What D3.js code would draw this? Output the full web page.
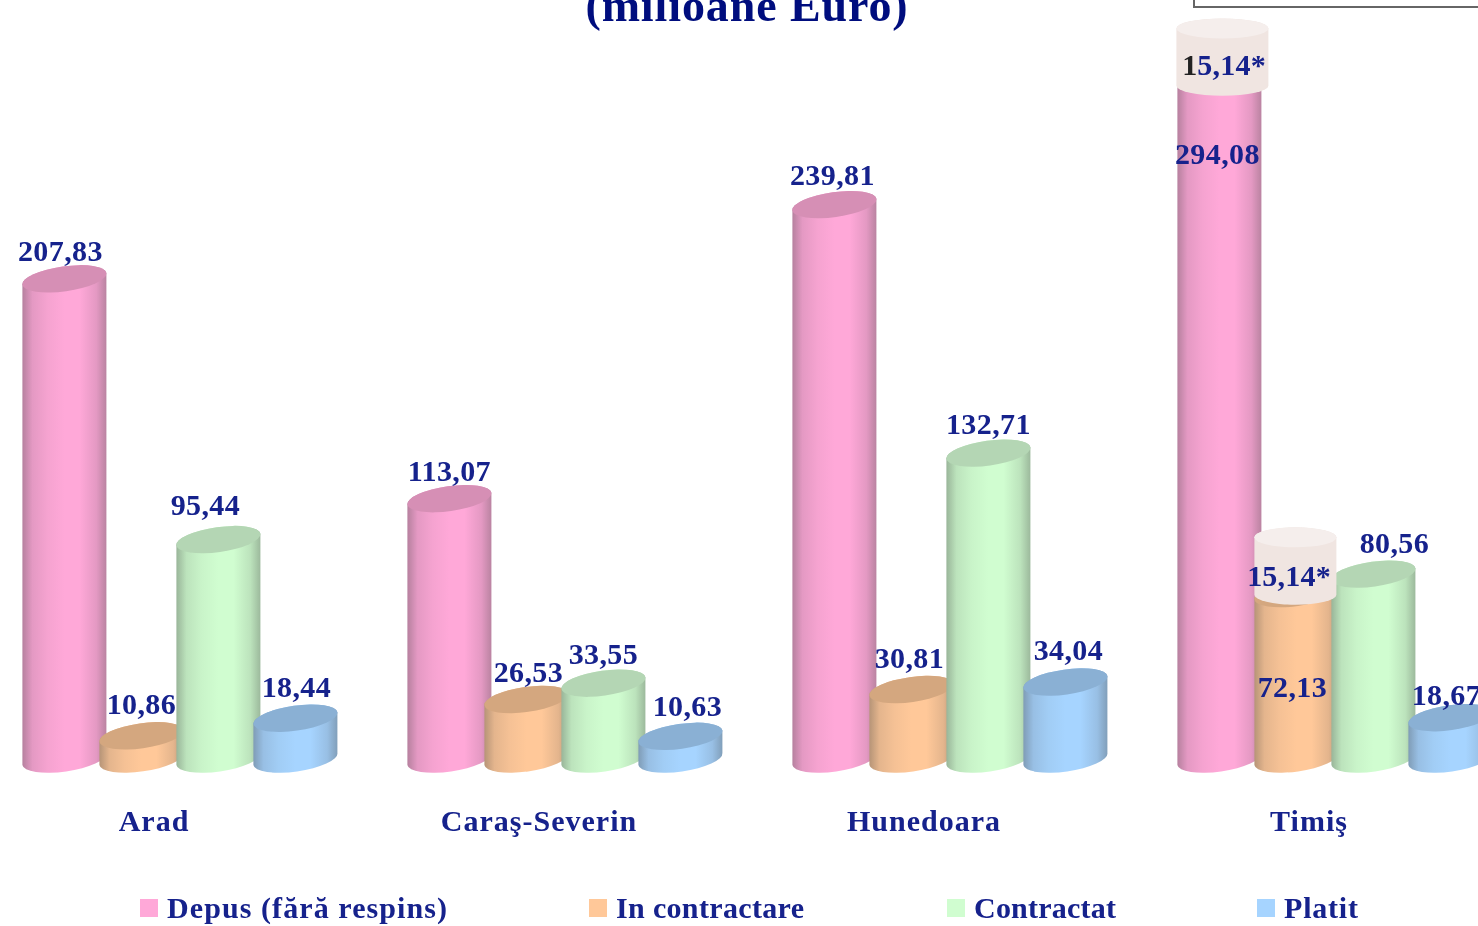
<!DOCTYPE html>
<html>
<head>
<meta charset="utf-8">
<script src="https://cdn.jsdelivr.net/npm/d3@7"></script>
<style>
  html, body { margin: 0; padding: 0; background: #fff; overflow: hidden; }
  text { font-family: "Liberation Serif", serif; font-weight: bold; }
</style>
</head>
<body>
<div id="chart-area"></div>
<script>
// DATA
const categories = ["Arad", "Caraş-Severin", "Hunedoara", "Timiş"]
const seriesNames = ["Depus (fără respins)", "In contractare", "Contractat", "Platit"]
const depus = [207.83, 113.07, 239.81, 294.08]
const inContractare = [10.86, 26.53, 30.81, 72.13]
const contractat = [95.44, 33.55, 132.71, 80.56]
const platit = [18.44, 10.63, 34.04, 18.67]
const seriesValues = [depus, inContractare, contractat, platit]
const seriesColors = ["#ffa8d8", "#ffc899", "#d0fdd0", "#a6d4ff"]
const topColors = ["#d68fb5", "#d4a77f", "#b4d6b4", "#8ab0d4"]

// the two pale "15,14*" caps on the Timis bars (drawn taller than their value in the original)
const capLabel = "15,14*"
const capSeries = [0, 1]
const capDrawnValue = 24.7

// LAYOUT
const WIDTH = 1478
const HEIGHT = 926
const BASE_Y = 761
const BAR_W = 84
const RY = 12.5
const TILT = -8
const TEXT_COLOR = "#14208c"
const legendX = [140, 589, 947, 1257]
const legendW = [280, 188, 142, 74]

// label tweaks "series-category": [dx, dy]
const labelShift = {
  "0-0": [-4, 2], "0-1": [0, 2], "0-2": [-2, 0], "0-3": [-2, 105],
  "1-0": [0, -2], "1-1": [2, 3], "1-2": [-2, -2], "1-3": [-4, 123],
  "2-0": [-13, -5], "2-1": [0, 1], "2-2": [0, 1], "2-3": [21, -1],
  "3-0": [1, -1], "3-1": [7, 0], "3-2": [3, -2], "3-3": [-4, 7]
}

const svg = d3.select("#chart-area").append("svg")
  .attr("width", WIDTH)
  .attr("height", HEIGHT)
  .style("display", "block")

const defs = svg.append("defs")

// the reference is a soft upscaled scan
defs.append("filter")
  .attr("id", "soft")
  .attr("filterUnits", "userSpaceOnUse")
  .attr("x", 0).attr("y", 0)
  .attr("width", WIDTH).attr("height", HEIGHT)
  .append("feGaussianBlur")
  .attr("stdDeviation", 0.6)

seriesColors.forEach((c, i) => {
  const dark = d3.interpolateRgb(c, "#404040")
  const g = defs.append("linearGradient").attr("id", "side" + i)
  const stops = [[0, 0.38], [0.12, 0.14], [0.3, 0.05], [0.5, 0], [0.68, 0], [0.88, 0.14], [1, 0.36]]
  stops.forEach(s => {
    g.append("stop").attr("offset", s[0]).attr("stop-color", dark(s[1]))
  })
})

const root = svg.append("g").attr("filter", "url(#soft)")

// SCALES
const x0 = d3.scaleBand()
  .domain(categories)
  .range([-38.5, 1501.5])

const x1 = d3.scaleBand()
  .domain(d3.range(seriesNames.length))
  .range([60.9, 368.9])

const y = d3.scaleLinear()
  .domain([0, 300])
  .range([BASE_Y, BASE_Y - 696])

// title, cut off by the top of the image
root.append("text")
  .attr("x", 747)
  .attr("y", 21)
  .attr("text-anchor", "middle")
  .attr("font-size", 46)
  .attr("letter-spacing", 0.9)
  .attr("fill", "#00107e")
  .text("(milioane Euro)")

// box of the cropped note, top right
root.append("rect")
  .attr("x", 1194).attr("y", -50)
  .attr("width", 400).attr("height", 57)
  .attr("fill", "#fff")
  .attr("stroke", "#666")
  .attr("stroke-width", 2)

function cylinderPath(cx, topY, botY, rx, ry, rot) {
  const a = rot * Math.PI / 180
  const dx = rx * Math.cos(a)
  const dy = rx * Math.sin(a)
  return `M${cx - dx},${topY - dy} L${cx - dx},${botY - dy}` +
    ` A${rx},${ry} ${rot} 0 0 ${cx + dx},${botY + dy}` +
    ` L${cx + dx},${topY + dy}` +
    ` A${rx},${ry} ${rot} 0 0 ${cx - dx},${topY - dy} Z`
}

// BARS, left to right so that each one overlaps the previous
const bars = []
categories.forEach((c, ci) => {
  seriesValues.forEach((vals, si) => {
    bars.push({ cat: c, ci: ci, si: si, value: vals[ci] })
  })
})

const RX = BAR_W / 2 / Math.cos(TILT * Math.PI / 180)

const barGroups = root.selectAll("g.bar")
  .data(bars)
  .enter().append("g")
  .attr("class", "bar")

barGroups.append("path")
  .attr("d", d => cylinderPath(x0(d.cat) + x1(d.si) + BAR_W / 2, y(d.value), y(0) - 2, RX, RY, TILT))
  .attr("fill", d => `url(#side${d.si})`)

barGroups.append("ellipse")
  .attr("rx", RX)
  .attr("ry", RY)
  .attr("transform", d => `translate(${x0(d.cat) + x1(d.si) + BAR_W / 2},${y(d.value)}) rotate(${TILT})`)
  .attr("fill", d => topColors[d.si])

// CAPS on Timis
const capW = [92, 82]
const capDx = [3, -1]
const capDy = [7, 1]
const capText = [[1224, 75], [1289, 586]]
const lastCat = categories[categories.length - 1]

capSeries.forEach((si, i) => {
  const value = seriesValues[si][3]
  const cx = x0(lastCat) + x1(si) + BAR_W / 2 + capDx[i]
  const bot = y(value) + capDy[i]
  const top = bot - (y(0) - y(capDrawnValue))
  const cap = root.append("g")
  cap.append("path")
    .attr("d", cylinderPath(cx, top, bot, capW[i] / 2, 10, 0))
    .attr("fill", "#f0e5e1")
  cap.append("ellipse")
    .attr("cx", cx).attr("cy", top)
    .attr("rx", capW[i] / 2).attr("ry", 10)
    .attr("fill", "#f5eeec")
})

// VALUE LABELS
root.selectAll("text.value")
  .data(bars)
  .enter().append("text")
  .attr("class", "value")
  .attr("x", d => x0(d.cat) + x1(d.si) + BAR_W / 2 + labelShift[d.si + "-" + d.ci][0])
  .attr("y", d => y(d.value) - 20 + labelShift[d.si + "-" + d.ci][1])
  .attr("text-anchor", "middle")
  .attr("font-size", 30)
  .attr("letter-spacing", 0.4)
  .attr("fill", TEXT_COLOR)
  .text(d => d.value.toFixed(2).replace(".", ","))

capText.forEach((p, i) => {
  const t = root.append("text")
    .attr("x", p[0]).attr("y", p[1])
    .attr("text-anchor", "middle")
    .attr("font-size", 30)
    .attr("letter-spacing", 0.2)
    .attr("fill", TEXT_COLOR)
  if (i === 0) {
    // first digit is dark in the upper cap
    t.append("tspan").attr("fill", "#222").text(capLabel[0])
    t.append("tspan").text(capLabel.slice(1))
  } else {
    t.text(capLabel)
  }
})

// CATEGORY AXIS
const xAxisCall = d3.axisBottom(x0).tickSize(0).tickPadding(0)
root.append("g")
  .attr("transform", "translate(0,810)")
  .call(xAxisCall)
  .call(g => g.select(".domain").remove())
  .selectAll("text")
    .attr("font-size", 30)
    .attr("font-family", null)
    .attr("letter-spacing", 1)
    .attr("fill", TEXT_COLOR)

// LEGEND
const legend = root.selectAll("g.legend")
  .data(seriesNames)
  .enter().append("g")
  .attr("class", "legend")
  .attr("transform", (d, i) => `translate(${legendX[i]},899)`)

legend.append("rect")
  .attr("width", 18)
  .attr("height", 18)
  .attr("fill", (d, i) => seriesColors[i])

legend.append("text")
  .attr("x", 27)
  .attr("y", 19)
  .attr("font-size", 30)
  .attr("textLength", (d, i) => legendW[i])
  .attr("fill", TEXT_COLOR)
  .text(d => d)
</script>
</body>
</html>
